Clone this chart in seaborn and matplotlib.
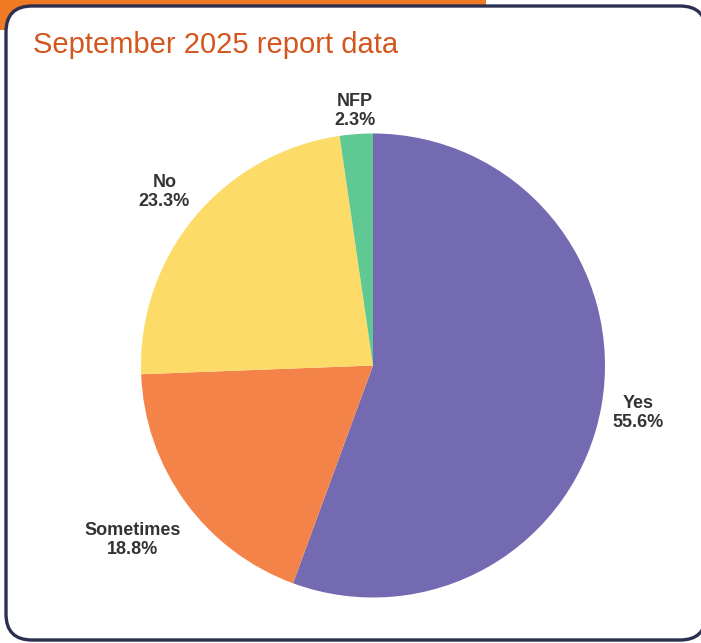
import numpy as np
import matplotlib
matplotlib.use("Agg")
import matplotlib.pyplot as plt
import seaborn as sns
from matplotlib.patches import FancyBboxPatch, Rectangle

sns.set_theme(style="white")
plt.rcParams["font.family"] = ["Liberation Sans", "DejaVu Sans"]

# Survey responses
categories = ["Yes", "Sometimes", "No", "NFP"]
shares = [55.6, 18.8, 23.3, 2.3]
colors = ["#736AB2", "#F4834A", "#FDDB68", "#5FC893"]
label_dist = [1.16, 1.28, 1.17, 1.10]

W, H = 701, 643
fig = plt.figure(figsize=(W / 100, H / 100), dpi=100)
fig.patch.set_facecolor("white")

# Background: orange tab behind the card
bg = fig.add_axes([0, 0, 1, 1])
bg.set_xlim(0, W)
bg.set_ylim(H, 0)
bg.axis("off")
bg.add_patch(Rectangle((0, 0), 486, 30, facecolor="#EE7A24", edgecolor="none"))
bg.add_patch(FancyBboxPatch((6, 6), 700, 634,
                            boxstyle="round,pad=0,rounding_size=26",
                            facecolor="white", edgecolor="#2B3050", linewidth=2.4))
bg.text(33, 45, "September 2025 report data", color="#D4561F",
        fontsize=21, va="center", ha="left")

# Pie
cx, cy, r = 373, 365.5, 232
ax = fig.add_axes([(cx - r) / W, (H - cy - r) / H, 2 * r / W, 2 * r / H])
wedges, _ = ax.pie(shares, colors=colors, startangle=90, counterclock=False,
                   wedgeprops=dict(linewidth=0))
ax.set_xlim(-1, 1)
ax.set_ylim(-1, 1)
ax.set_aspect("equal")

for w, cat, val, d in zip(wedges, categories, shares, label_dist):
    ang = np.deg2rad((w.theta1 + w.theta2) / 2)
    ax.text(d * np.cos(ang), d * np.sin(ang), f"{cat}\n{val}%",
            ha="center", va="center", fontsize=13, fontweight="bold",
            color="#333333", linespacing=1.15, clip_on=False)

fig.savefig("out.png", dpi=100, facecolor="white")
